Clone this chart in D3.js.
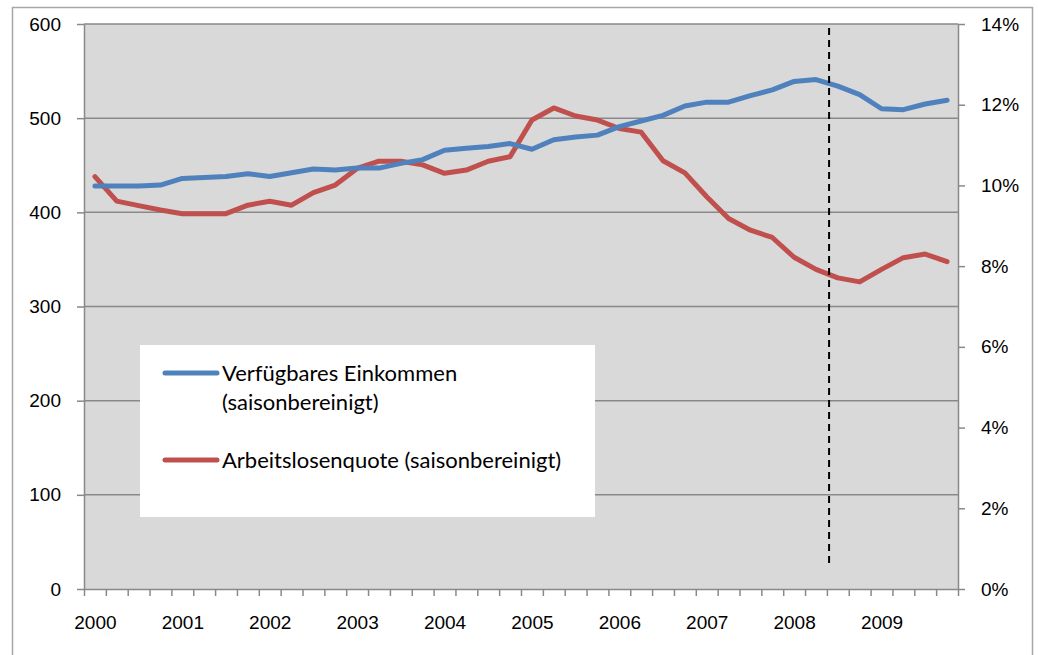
<!DOCTYPE html>
<html>
<head>
<meta charset="utf-8">
<script src="https://cdn.jsdelivr.net/npm/d3@7"></script>
<style>
  body { margin: 0; background: #fff; }
  svg { display: block; font-family: Lato, "Open Sans", sans-serif; }
</style>
</head>
<body>
<svg id="chart" width="1038" height="655"></svg>
<script>
// quarters 2000 Q1 .. 2009 Q4
var quarters = [
  '2000-1','2000-2','2000-3','2000-4','2001-1','2001-2','2001-3','2001-4',
  '2002-1','2002-2','2002-3','2002-4','2003-1','2003-2','2003-3','2003-4',
  '2004-1','2004-2','2004-3','2004-4','2005-1','2005-2','2005-3','2005-4',
  '2006-1','2006-2','2006-3','2006-4','2007-1','2007-2','2007-3','2007-4',
  '2008-1','2008-2','2008-3','2008-4','2009-1','2009-2','2009-3','2009-4'
];
var yearLabels = ['2000','2001','2002','2003','2004','2005','2006','2007','2008','2009'];

// Verfügbares Einkommen (left axis)
var einkommen = [
  428, 428, 428, 429, 436, 437, 438, 441, 438, 442,
  446, 445, 447, 447, 452, 456, 466, 468, 470, 473,
  467, 477, 480, 482, 491, 497, 503, 513, 517, 517,
  524, 530, 539, 541, 534, 525, 510, 509, 515, 519
];
// Arbeitslosenquote in % (right axis)
var quote = [
  10.22, 9.61, 9.50, 9.39, 9.30, 9.30, 9.30, 9.51, 9.61, 9.51,
  9.82, 10.01, 10.42, 10.60, 10.60, 10.51, 10.30, 10.38, 10.60, 10.71,
  11.62, 11.92, 11.72, 11.62, 11.41, 11.32, 10.61, 10.31, 9.72, 9.18,
  8.89, 8.71, 8.22, 7.92, 7.71, 7.61, 7.92, 8.21, 8.30, 8.11
];
var leftTicks = [0, 100, 200, 300, 400, 500, 600];
var rightTicks = [0, 2, 4, 6, 8, 10, 12, 14];
var seriesNames = ['Verfügbares Einkommen', '(saisonbereinigt)', 'Arbeitslosenquote (saisonbereinigt)'];
// dashed marker, in quarters since start of 2000
var markerPos = 34.1;

var svg = d3.select('#chart');
var plotLeft = 84, plotRight = 958, plotTop = 24, plotBottom = 589;

var x = d3.scaleLinear().domain([0, quarters.length]).range([plotLeft, plotRight]);
var yL = d3.scaleLinear().domain([0, 600]).range([plotBottom, plotTop]);
var yR = d3.scaleLinear().domain([0, 14]).range([plotBottom, plotTop]);

// outer frame
svg.append('rect')
  .attr('x', 12.5).attr('y', 7.5)
  .attr('width', 1020).attr('height', 660)
  .style('fill', 'none').style('stroke', '#a6a6a6').style('stroke-width', 1.5);

// plot background
svg.append('rect')
  .attr('x', plotLeft).attr('y', plotTop)
  .attr('width', plotRight - plotLeft).attr('height', plotBottom - plotTop)
  .style('fill', '#d9d9d9');

// gridlines
svg.selectAll('.grid')
  .data(leftTicks.slice(1))
  .enter()
  .append('line')
  .attr('x1', plotLeft).attr('x2', plotRight)
  .attr('y1', function (d) { return yL(d); })
  .attr('y2', function (d) { return yL(d); })
  .style('stroke', '#898989').style('stroke-width', 1.5);

// axes
var axisColor = '#898989';
function styleAxis(g) {
  g.selectAll('path, line').style('stroke', axisColor).style('stroke-width', 1.5);
  g.selectAll('text').style('font-size', '19px').style('fill', '#000');
}

svg.append('g')
  .attr('transform', 'translate(' + plotLeft + ',0)')
  .call(d3.axisLeft(yL).tickValues(leftTicks).tickSize(7).tickPadding(16).tickSizeOuter(0))
  .call(styleAxis);

svg.append('g')
  .attr('transform', 'translate(' + plotRight + ',0)')
  .call(d3.axisRight(yR).tickValues(rightTicks).tickSize(7).tickPadding(16).tickSizeOuter(0)
    .tickFormat(function (d) { return d + '%'; }))
  .call(styleAxis);

svg.append('g')
  .attr('transform', 'translate(0,' + plotBottom + ')')
  .call(d3.axisBottom(x).tickValues(d3.range(quarters.length + 1)).tickSize(7).tickSizeOuter(0).tickFormat(''))
  .call(styleAxis);

// year labels at first quarter of each year
svg.append('g')
  .attr('transform', 'translate(0,' + plotBottom + ')')
  .call(d3.axisBottom(x)
    .tickValues(yearLabels.map(function (d) { return quarters.indexOf(d + '-1') + 0.5; }))
    .tickSize(0).tickPadding(27)
    .tickFormat(function (d, i) { return yearLabels[i]; }))
  .call(styleAxis)
  .select('.domain').remove();

// lines
var lineL = d3.line()
  .x(function (d, i) { return x(i + 0.5); })
  .y(function (d) { return yL(d); });
var lineR = d3.line()
  .x(function (d, i) { return x(i + 0.5); })
  .y(function (d) { return yR(d); });

svg.append('path')
  .datum(quote)
  .attr('d', lineR)
  .style('fill', 'none').style('stroke', '#c0504d').style('stroke-width', 5)
  .style('stroke-linejoin', 'round').style('stroke-linecap', 'round');

svg.append('path')
  .datum(einkommen)
  .attr('d', lineL)
  .style('fill', 'none').style('stroke', '#4f81bd').style('stroke-width', 5)
  .style('stroke-linejoin', 'round').style('stroke-linecap', 'round');

// dashed marker line
svg.append('line')
  .attr('x1', x(markerPos)).attr('x2', x(markerPos))
  .attr('y1', yL(600) + 4).attr('y2', yL(23))
  .style('stroke', '#000').style('stroke-width', 2)
  .style('stroke-dasharray', '7,5');

// legend
var legend = svg.append('g');
legend.append('rect')
  .attr('x', 140).attr('y', 345)
  .attr('width', 455).attr('height', 172)
  .style('fill', '#fff');

legend.append('line')
  .attr('x1', 165).attr('x2', 217).attr('y1', 373).attr('y2', 373)
  .style('stroke', '#4f81bd').style('stroke-width', 5).style('stroke-linecap', 'round');
legend.append('line')
  .attr('x1', 165).attr('x2', 217).attr('y1', 460).attr('y2', 460)
  .style('stroke', '#c0504d').style('stroke-width', 5).style('stroke-linecap', 'round');

legend.selectAll('text')
  .data(seriesNames)
  .enter()
  .append('text')
  .attr('x', 222)
  .attr('y', function (d, i) { return [381, 410, 468][i]; })
  .style('font-size', '22px')
  .style('fill', '#000')
  .text(function (d) { return d; });
</script>
</body>
</html>
